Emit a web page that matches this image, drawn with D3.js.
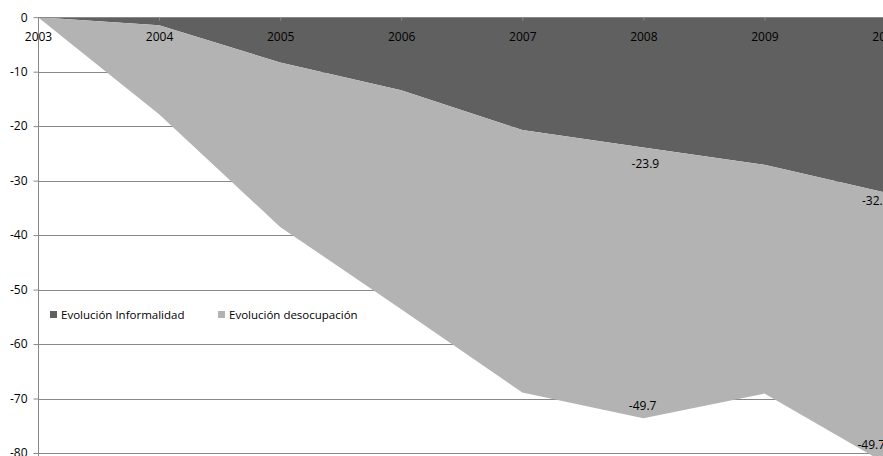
<!DOCTYPE html>
<html>
<head>
<meta charset="utf-8">
<script src="https://cdn.jsdelivr.net/npm/d3@7"></script>
<style>
  html, body { margin: 0; padding: 0; background: #ffffff; overflow: hidden; }
  svg { display: block; }
  text { font-family: "Open Sans", "Liberation Sans", sans-serif; fill: #000; }
</style>
</head>
<body>
<svg id="chart" width="883" height="456"></svg>
<script>
// Category labels and series (percentage change since 2003)
const years = ["2003", "2004", "2005", "2006", "2007", "2008", "2009", "2010"];
const informalidad = [0, -1.5, -8.3, -13.4, -20.7, -23.9, -27.1, -32.2];
const desocupacion = [0, -16.3, -30.2, -40.2, -48.2, -49.7, -42.0, -49.7];
const seriesNames = ["Evolución Informalidad", "Evolución desocupación"];
const yTicks = [0, -10, -20, -30, -40, -50, -60, -70, -80];
// Points that carry a value label
const labelledYears = ["2008", "2010"];

const colors = ["#606060", "#b3b3b3"];

const svg = d3.select("#chart");
const W = 883, H = 456;

const x = d3.scalePoint().domain(years).range([38, 885.5]);
const y = d3.scaleLinear().domain([-80, 0]).range([453, 17.2]);

const rows = years.map((yr, i) => ({ year: yr, inf: informalidad[i], des: desocupacion[i] }));
const stacked = d3.stack()
  .keys(["inf", "des"])
  .offset(d3.stackOffsetDiverging)(rows);

// Plain hyphen-minus for negative numbers
const fmtInt = d => String(d);
const fmtOne = d => d.toFixed(1);

// Horizontal gridlines
svg.append("g")
  .selectAll("line")
  .data(yTicks.filter(d => d !== 0))
  .join("line")
  .attr("x1", 38).attr("x2", W)
  .attr("y1", d => Math.round(y(d)) + 0.5).attr("y2", d => Math.round(y(d)) + 0.5)
  .attr("stroke", "#888888").attr("stroke-width", 1);

// Stacked areas
const area = d3.area()
  .x(d => x(d.data.year))
  .y0(d => y(d[0]))
  .y1(d => y(d[1]));

svg.append("g")
  .selectAll("path")
  .data(stacked)
  .join("path")
  .attr("d", area)
  .attr("fill", (d, i) => colors[i]);

// Value axis on the left
const yAxis = svg.append("g")
  .attr("transform", "translate(38.5,0)")
  .call(d3.axisLeft(y).tickValues(yTicks).tickSize(5).tickPadding(6).tickFormat(fmtInt));
yAxis.select(".domain").attr("stroke", "#888888").attr("d", `M0,${y(0)}V${H}`);
yAxis.selectAll(".tick line").attr("stroke", "#888888");
yAxis.selectAll(".tick text")
  .style("font-size", "12px")
  .attr("fill", "#000");

// Category axis along the zero line, labels hanging below it
const xAxis = svg.append("g")
  .attr("transform", `translate(0,${Math.round(y(0)) + 0.5})`)
  .call(d3.axisBottom(x).tickSize(3).tickPadding(12));
xAxis.select(".domain").attr("stroke", "#888888").attr("d", `M38,0H${W}`);
xAxis.selectAll(".tick line").attr("stroke", "#8c8c8c");
xAxis.selectAll(".tick text")
  .style("font-size", "12px")
  .attr("fill", "#000");

// Data labels, nudged [dx, dy] from the edge of each stacked band
const labelNudge = [
  [[2, 16], [-9.7, 8]],
  [[-0.7, -13], [-14.2, -19]]
];
stacked.forEach((s, si) => {
  const values = si === 0 ? informalidad : desocupacion;
  labelledYears.forEach((yr, li) => {
    const d = s.find(p => p.data.year === yr);
    const val = values[years.indexOf(yr)];
    const [dx, dy] = labelNudge[si][li];
    svg.append("text")
      .attr("text-anchor", "middle")
      .attr("dominant-baseline", "central")
      .style("font-size", "12px")
      .attr("x", x(yr) + dx)
      .attr("y", y(d[0]) + dy)
      .text(fmtOne(val));
  });
});

// Legend
const legend = svg.append("g").attr("transform", "translate(50,311)");
const legendX = [0, 168];
seriesNames.forEach((name, i) => {
  const g = legend.append("g").attr("transform", `translate(${legendX[i]},0)`);
  g.append("rect").attr("width", 7).attr("height", 7).attr("fill", colors[i]);
  g.append("text").attr("x", 11).attr("y", 3.5)
    .attr("dominant-baseline", "central")
    .style("font-size", "11.5px")
    .attr("fill", "#222")
    .text(name);
});
</script>
</body>
</html>
